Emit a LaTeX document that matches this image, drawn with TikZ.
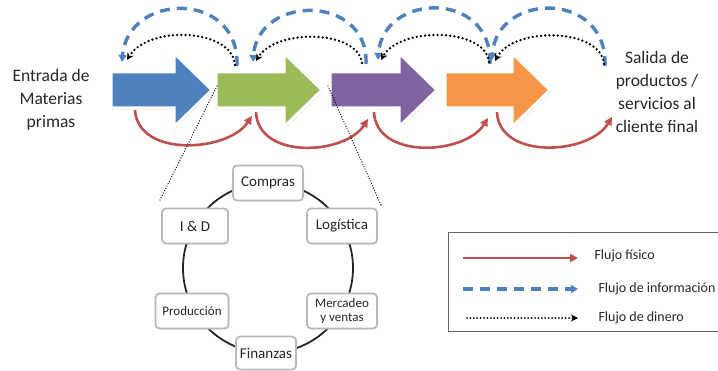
\documentclass[tikz,border=0pt]{standalone}
\usepackage{fontspec}
\setmainfont{Carlito}
\usetikzlibrary{arrows.meta,shadows}

\definecolor{azul}{HTML}{4F81BD}
\definecolor{verde}{HTML}{9BBB59}
\definecolor{morado}{HTML}{8064A2}
\definecolor{naranja}{HTML}{F79646}
\definecolor{rojo}{HTML}{C0504D}
\definecolor{texto}{HTML}{262626}

\tikzset{
  flecha/.style={fill=#1, draw=white, line width=3pt,
    drop shadow={shadow xshift=1.2pt, shadow yshift=-1.6pt, opacity=0.25}},
  fisico/.style={draw=rojo, line width=2.6pt, -{Triangle[length=8pt,width=8pt]}},
  info/.style={draw=azul, line width=3.4pt, dash pattern=on 10pt off 7pt,
    -{Triangle[length=7pt,width=8pt]}},
  dinero/.style={draw=black, line width=2.6pt, line cap=round,
    dash pattern=on 0pt off 4.2pt, -{Stealth[length=7pt,width=7pt]}},
  lupa/.style={draw=black, line width=1.3pt, line cap=round, dash pattern=on 0pt off 2.6pt},
  area/.style={draw=gray!55, line width=1.8pt, fill=white, rounded corners=4pt,
    minimum width=70pt, minimum height=35pt, align=center, text=texto,
    font=\fontsize{15}{15}\selectfont,
    drop shadow={shadow xshift=1pt, shadow yshift=-1.2pt, opacity=0.2}},
  rotulo/.style={align=center, text=texto, font=\fontsize{17.5}{23}\selectfont},
  leyenda/.style={anchor=west, text=texto, font=\fontsize{14}{16}\selectfont}
}

\begin{document}
\begin{tikzpicture}[x=1pt,y=-1pt]
\useasboundingbox (0,0) rectangle (718,371);

% cadena de bloques
\filldraw[flecha=azul] (111,72) -- (174,72) -- (174,53) -- (212,90) -- (174,127) -- (174,108) -- (111,108) -- cycle;
\filldraw[flecha=verde] (216,72) -- (284,72) -- (284,53) -- (322,90) -- (284,127) -- (284,108) -- (216,108) -- cycle;
\filldraw[flecha=morado] (330,72) -- (399,72) -- (399,53) -- (437,90) -- (399,127) -- (399,108) -- (330,108) -- cycle;
\filldraw[flecha=naranja] (445,72) -- (512,72) -- (512,53) -- (550,90) -- (512,127) -- (512,108) -- (445,108) -- cycle;

\node[rotulo] (entrada) at (51,100) {Entrada de\\Materias\\primas};
\node[rotulo] (salida) at (657,92) {Salida de\\productos /\\servicios al\\cliente final};

% puntos de llegada y salida de los flujos
\coordinate (i1) at (237,66); \coordinate (i0) at (122,62);
\coordinate (i3) at (366,64); \coordinate (i2) at (253,62);
\coordinate (i5) at (490,64); \coordinate (i4) at (378,60);
\coordinate (i7) at (605,66); \coordinate (i6) at (492,60);
\coordinate (d1) at (235,65); \coordinate (d0) at (127,60);
\coordinate (d3) at (362,63); \coordinate (d2) at (256,61);
\coordinate (d5) at (489,62); \coordinate (d4) at (381,60);
\coordinate (d7) at (604,64); \coordinate (d6) at (495,61);
\coordinate (f0) at (135,110); \coordinate (f1) at (252,116);
\coordinate (f2) at (256,112); \coordinate (f3) at (368,119);
\coordinate (f4) at (374,112); \coordinate (f5) at (488,118);
\coordinate (f6) at (497,112); \coordinate (f7) at (612,117);

\draw[info] (i1) .. controls (240,-10) and (128,-8) .. (i0);
\draw[info] (i3) .. controls (369,-6) and (258,-6) .. (i2);
\draw[info] (i5) .. controls (493,-10) and (383,-8) .. (i4);
\draw[info] (i7) .. controls (608,-10) and (497,-8) .. (i6);

\draw[dinero] (d1) .. controls (232,28) and (148,25) .. (d0);
\draw[dinero] (d3) .. controls (358,30) and (276,28) .. (d2);
\draw[dinero] (d5) .. controls (486,28) and (400,26) .. (d4);
\draw[dinero] (d7) .. controls (601,28) and (514,26) .. (d6);

\draw[fisico] (f0) .. controls (138,158) and (228,152) .. (f1);
\draw[fisico] (f2) .. controls (258,160) and (345,155) .. (f3);
\draw[fisico] (f4) .. controls (376,160) and (465,155) .. (f5);
\draw[fisico] (f6) .. controls (499,160) and (589,155) .. (f7);

% detalle de la empresa
\coordinate (z0) at (217,86); \coordinate (z1) at (160,200);
\coordinate (z2) at (328,86); \coordinate (z3) at (381,205);
\draw[lupa] (z0) -- (z1);
\draw[lupa] (z2) -- (z3);

\coordinate (centro) at (268,268);
\draw[line width=1.8pt, black!85] (centro) circle[radius=85];
\node[area] (compras) at (268,183) {Compras};
\node[area] (logistica) at (342,226) {Logística};
\node[area, font=\fontsize{13}{14}\selectfont] (mercadeo) at (342,311) {Mercadeo\\y ventas};
\node[area, minimum width=60pt, minimum height=33pt] (finanzas) at (266,353) {Finanzas};
\node[area, minimum width=73pt, font=\fontsize{13}{14}\selectfont] (produccion) at (192,311) {Producción};
\node[area, minimum width=66pt] (iyd) at (195,226) {I \& D};

% leyenda
\draw[gray!80!black, line width=0.8pt] (448,232) rectangle (720,331);
\coordinate (l0) at (463,258); \coordinate (l1) at (578,258);
\coordinate (l2) at (463,289); \coordinate (l3) at (578,289);
\coordinate (l4) at (467,318); \coordinate (l5) at (578,318);
\draw[fisico] (l0) -- (l1);
\draw[info] (l2) -- (l3);
\draw[dinero, line width=2pt, dash pattern=on 0pt off 3.4pt] (l4) -- (l5);
\node[leyenda] (t0) at (591,256) {Flujo físico};
\node[leyenda] (t1) at (595,289) {Flujo de información};
\node[leyenda] (t2) at (595,318) {Flujo de dinero};
\end{tikzpicture}
\end{document}
